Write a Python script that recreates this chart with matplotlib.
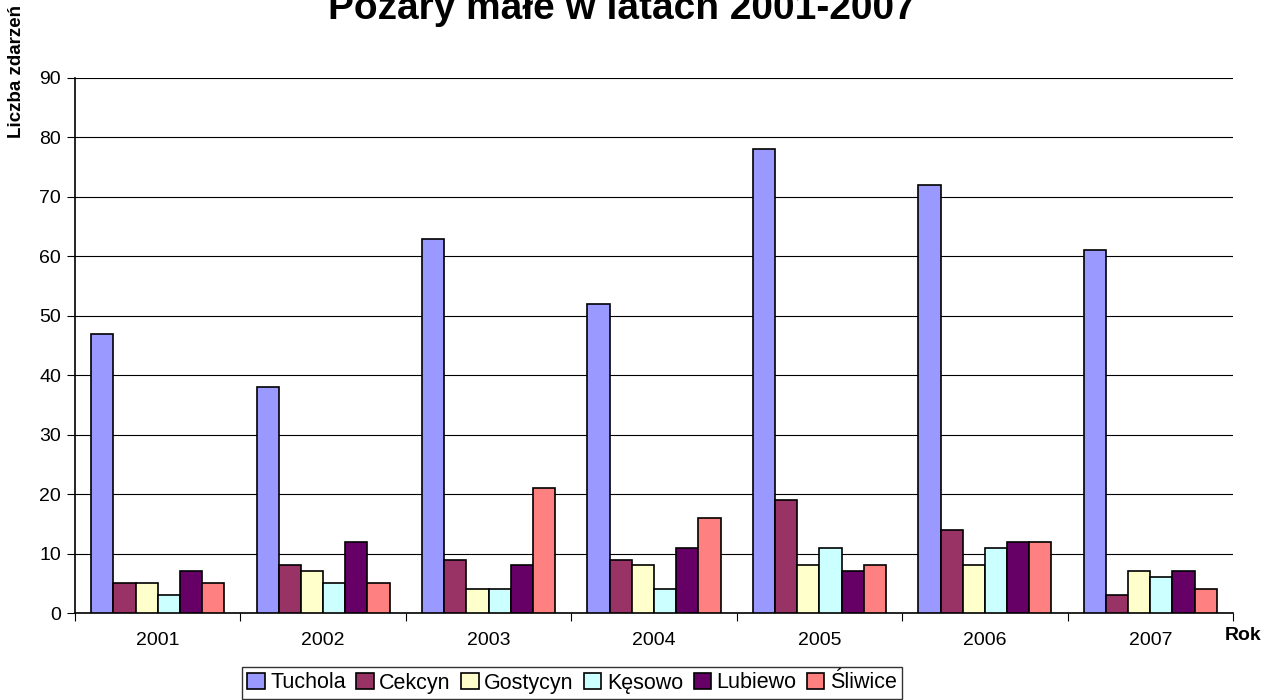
import matplotlib
matplotlib.use("Agg")
import matplotlib.pyplot as plt
import numpy as np

plt.rcParams['font.family'] = ['Liberation Sans', 'DejaVu Sans']

years = ["2001", "2002", "2003", "2004", "2005", "2006", "2007"]
series_names = ["Tuchola", "Cekcyn", "Gostycyn", "Kęsowo", "Lubiewo", "Śliwice"]
tuchola = [47, 38, 63, 52, 78, 72, 61]
cekcyn = [5, 8, 9, 9, 19, 14, 3]
gostycyn = [5, 7, 4, 8, 8, 8, 7]
kesowo = [3, 5, 4, 4, 11, 11, 6]
lubiewo = [7, 12, 8, 11, 7, 12, 7]
sliwice = [5, 5, 21, 16, 8, 12, 4]
series = [tuchola, cekcyn, gostycyn, kesowo, lubiewo, sliwice]
colors = ["#9999FF", "#993366", "#FFFFCC", "#CCFFFF", "#660066", "#FF8080"]

fig = plt.figure(figsize=(12.79, 7.0), dpi=100)
ax = fig.add_axes([75/1279, 1-613/700, (1233-75)/1279, (613-78)/700])

x = np.arange(len(years))
bw = 0.134
start = -2.5 * bw
for i, (name, vals, c) in enumerate(zip(series_names, series, colors)):
    ax.bar(x + start + i * bw, vals, width=bw, color=c, edgecolor="black",
           linewidth=1.2, label=name, zorder=3)

ax.set_xlim(-0.5, len(years) - 0.5)
ax.set_ylim(0, 90)
ax.set_yticks(range(0, 91, 10))
ax.yaxis.grid(True, color="black", linewidth=0.8, zorder=0)
ax.set_xticks(np.arange(-0.5, len(years), 1.0))
ax.set_xticklabels([])
ax.set_xticks(x, minor=True)
ax.set_xticklabels(years, minor=True)
ax.tick_params(axis="x", which="minor", length=0, pad=14, labelsize=14)
ax.tick_params(axis="x", which="major", length=6, direction="out", color="black")
ax.tick_params(axis="y", length=6, direction="out", labelsize=14, pad=4)
for s in ["top", "right"]:
    ax.spines[s].set_visible(False)
ax.spines["left"].set_linewidth(1.2)
ax.spines["bottom"].set_linewidth(1.2)

fig.text(622/1279, 1.0 - 19/700, "Pożary małe w latach 2001-2007", ha="center",
         va="baseline", fontsize=28, fontweight="bold")
fig.text(17/1279, 1 - 5/700, "Liczba zdarzeń", rotation=90, ha="center",
         va="top", fontsize=13.5, fontweight="bold")
fig.text(1243/1279, 1 - 635/700, "Rok", ha="center", va="center",
         fontsize=14, fontweight="bold")

leg = fig.legend(loc="center", bbox_to_anchor=(572/1279, 1 - 683/700), ncol=6,
                 frameon=True, fancybox=False, edgecolor="black", fontsize=15.5,
                 handlelength=0.8, handleheight=0.8, handletextpad=0.25,
                 columnspacing=0.5, borderpad=0.25, borderaxespad=0)
leg.get_frame().set_linewidth(1.0)

fig.savefig("out.png", dpi=100, facecolor="white")
